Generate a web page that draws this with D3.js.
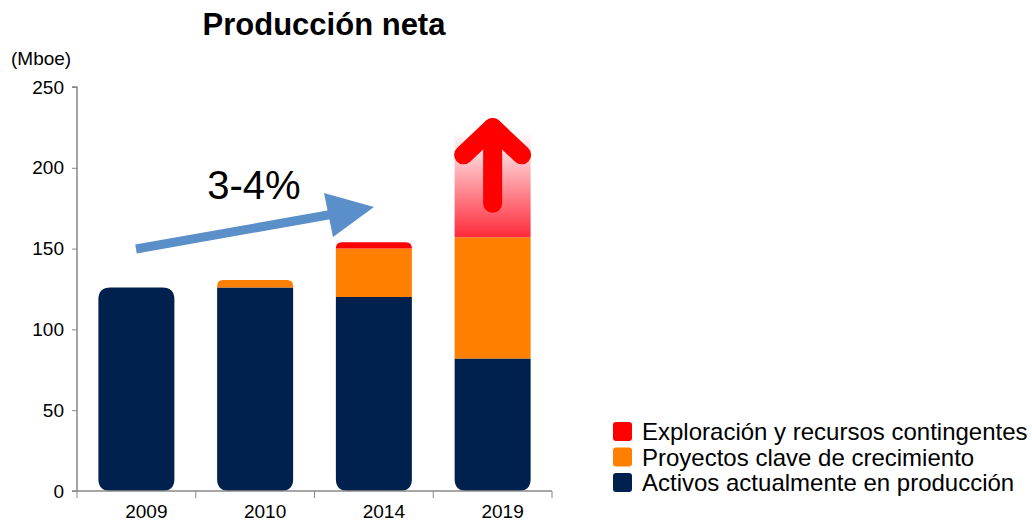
<!DOCTYPE html>
<html>
<head>
<meta charset="utf-8">
<script src="https://cdn.jsdelivr.net/npm/d3@7"></script>
<style>
  body { margin: 0; background: #fff; }
  text { font-family: "Liberation Sans", Arial, sans-serif; }
</style>
</head>
<body>
<svg id="chart" width="1032" height="521"></svg>
<script>
// chart data
var years = ['2009', '2010', '2014', '2019'];
var activos = [126, 126, 120, 82];
var proyectos = [0, 4.5, 30, 75];
var exploracion = [0, 0, 4, 65];
var yTicks = [0, 50, 100, 150, 200, 250];
var legendLabels = ['Exploración y recursos contingentes', 'Proyectos clave de crecimiento', 'Activos actualmente en producción'];
var colors = { activos: '#00214d', proyectos: '#ff7f00', exploracion: '#ff0000' };

var svg = d3.select('#chart');

var x = d3.scaleBand().domain(years).range([77, 552]).paddingInner(0.36).paddingOuter(0.18);
var y = d3.scaleLinear().domain([0, 250]).range([491, 87]);

// gradient for the 2019 exploration block
var defs = svg.append('defs');
var grad = defs.append('linearGradient').attr('id', 'fade').attr('x1', 0).attr('y1', 1).attr('x2', 0).attr('y2', 0);
grad.append('stop').attr('offset', '0%').attr('stop-color', '#ff2a3a').attr('stop-opacity', 1);
grad.append('stop').attr('offset', '100%').attr('stop-color', '#ff2a3a').attr('stop-opacity', 0);

// rectangle with separate top / bottom radius
function roundRect(x0, y0, w, h, rt, rb) {
  var p = d3.path();
  p.moveTo(x0 + rt, y0);
  p.lineTo(x0 + w - rt, y0);
  p.quadraticCurveTo(x0 + w, y0, x0 + w, y0 + rt);
  p.lineTo(x0 + w, y0 + h - rb);
  p.quadraticCurveTo(x0 + w, y0 + h, x0 + w - rb, y0 + h);
  p.lineTo(x0 + rb, y0 + h);
  p.quadraticCurveTo(x0, y0 + h, x0, y0 + h - rb);
  p.lineTo(x0, y0 + rt);
  p.quadraticCurveTo(x0, y0, x0 + rt, y0);
  p.closePath();
  return p.toString();
}

var topRadius = [12, 6, 6, 0];

years.forEach(function (yr, i) {
  var bx = x(yr), bw = x.bandwidth();
  var segs = [
    { v0: 0, v1: activos[i], fill: colors.activos },
    { v0: activos[i], v1: activos[i] + proyectos[i], fill: colors.proyectos },
    { v0: activos[i] + proyectos[i], v1: activos[i] + proyectos[i] + exploracion[i], fill: i === 3 ? 'url(#fade)' : colors.exploracion }
  ].filter(function (s) { return s.v1 > s.v0; });
  segs.forEach(function (s, k) {
    var rb = k === 0 ? 12 : 0;
    var rt = k === segs.length - 1 ? topRadius[i] : 0;
    svg.append('path')
      .attr('d', roundRect(bx, y(s.v1), bw, y(s.v0) - y(s.v1), rt, rb))
      .attr('fill', s.fill);
  });
});

// red up arrow on 2019
var cx = x('2019') + x.bandwidth() / 2;
svg.append('path')
  .attr('d', 'M' + cx + ',' + y(178) + 'L' + cx + ',' + y(225))
  .attr('stroke', '#ff0000').attr('stroke-width', 19).attr('stroke-linecap', 'round').attr('fill', 'none');
svg.append('path')
  .attr('d', 'M' + (cx - 29) + ',' + y(208) + 'L' + cx + ',' + y(225) + 'L' + (cx + 29) + ',' + y(208))
  .attr('stroke', '#ff0000').attr('stroke-width', 19).attr('stroke-linecap', 'round')
  .attr('stroke-linejoin', 'round').attr('fill', 'none');

// blue growth arrow
svg.append('line')
  .attr('x1', 136).attr('y1', 249).attr('x2', 345).attr('y2', 212)
  .attr('stroke', '#5b8fc9').attr('stroke-width', 9);
svg.append('path')
  .attr('d', 'M374,207 L324,193 L333,237 Z')
  .attr('fill', '#5b8fc9');
svg.append('text').attr('x', 254).attr('y', 199).attr('text-anchor', 'middle')
  .attr('font-size', 40).attr('fill', '#000').text('3-4%');

// axes
var yAxis = svg.append('g').attr('transform', 'translate(77,0)')
  .call(d3.axisLeft(y).tickValues(yTicks).tickSize(5).tickPadding(8));
var xAxis = svg.append('g').attr('transform', 'translate(0,491)')
  .call(d3.axisBottom(x).tickSize(0).tickPadding(14));
xAxis.selectAll('.tick text').attr('dx', 10);
var bounds = years.map(function (yr) { return x(yr) - x.step() * x.paddingInner() / 2; });
bounds[0] = 77;
bounds.push(552);
xAxis.selectAll('.bound').data(bounds).enter().append('line').attr('class', 'bound')
  .attr('x1', function (d) { return d; }).attr('x2', function (d) { return d; })
  .attr('y1', 0).attr('y2', 7).attr('stroke', '#888');
[yAxis, xAxis].forEach(function (g) {
  g.attr('font-size', 19);
  g.selectAll('path.domain').attr('stroke', '#888').attr('stroke-width', 1.5);
  g.selectAll('.tick line').attr('stroke', '#888');
  g.selectAll('text').attr('font-size', 19).attr('fill', '#000')
    .attr('font-family', '"Liberation Sans", Arial, sans-serif');
});
yAxis.select('path.domain').attr('d', 'M-5,87H0V491H-5');
xAxis.select('path.domain').attr('d', 'M77,0H552');

// title and unit
svg.append('text').attr('x', 324).attr('y', 35).attr('text-anchor', 'middle')
  .attr('font-size', 31).attr('font-weight', 'bold').text('Producción neta');
svg.append('text').attr('x', 11).attr('y', 65).attr('font-size', 19).text('(Mboe)');

// legend
var legendColors = [colors.exploracion, colors.proyectos, colors.activos];
var lg = svg.append('g').selectAll('g').data(legendLabels).enter().append('g')
  .attr('transform', function (d, i) { return 'translate(613,' + (422 + i * 25.5) + ')'; });
lg.append('rect').attr('width', 19).attr('height', 19).attr('rx', 3)
  .attr('fill', function (d, i) { return legendColors[i]; });
lg.append('text').attr('x', 29).attr('y', 18).attr('font-size', 24).text(function (d) { return d; });
</script>
</body>
</html>
